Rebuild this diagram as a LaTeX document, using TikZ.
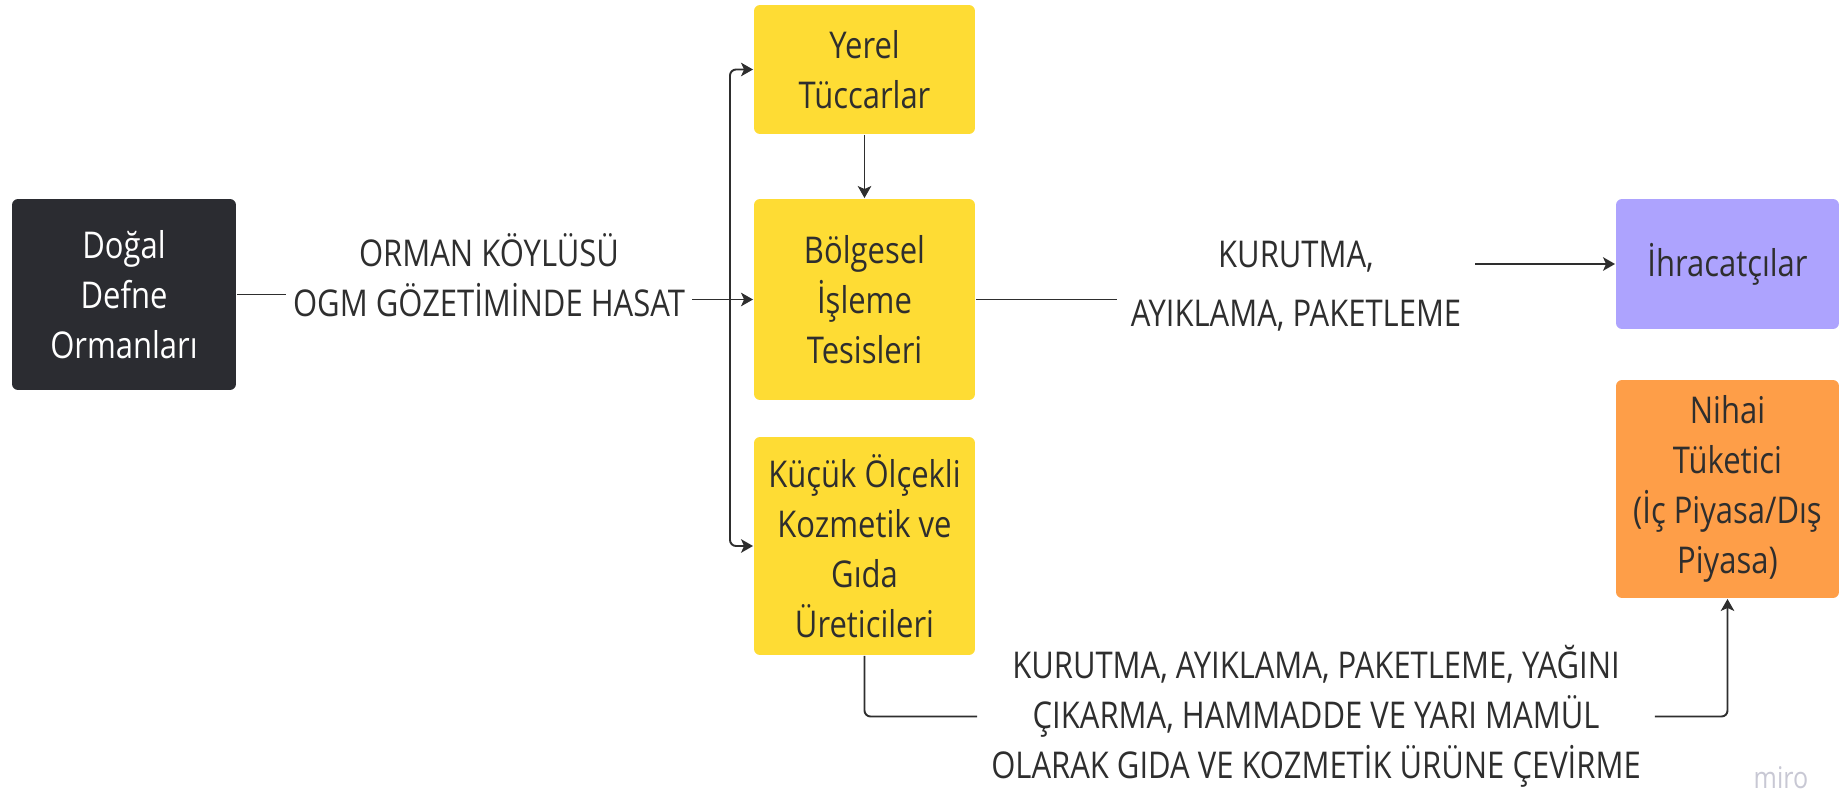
\documentclass[tikz,border=0pt]{standalone}
\usepackage{fontspec}
\setmainfont[FakeStretch=0.84]{Open Sans}
\usepackage{tikz}
\usetikzlibrary{positioning}
\usetikzlibrary{arrows.meta}

\definecolor{darkbox}{HTML}{2B2C31}
\definecolor{yellowbox}{HTML}{FEDC34}
\definecolor{purplebox}{HTML}{ADA3FE}
\definecolor{orangebox}{HTML}{FE9E48}
\definecolor{inkcol}{HTML}{2E2E2E}
\definecolor{mirogray}{HTML}{C8C8D4}

\begin{document}
\begin{tikzpicture}[x=0.02cm,y=-0.02cm,color=inkcol,line width=1.1pt,
    every node/.style={font=\fontsize{21}{28.5}\selectfont,text=inkcol,align=center},
    box/.style={rounded corners=0.12cm,inner sep=0pt,minimum width=4.42cm},
    lbl/.style={inner sep=3.5pt},
    arr/.style={-{Stealth[length=0.24cm,width=0.27cm,inset=0.06cm]}}]
        \useasboundingbox (0,0) rectangle (1847,794);

        % boxes
        \node[box,fill=darkbox,text=white,minimum width=4.48cm,minimum height=3.82cm](dogal) at (124,294.5) {Doğal\\Defne\\Ormanları};
        \node[box,fill=yellowbox,minimum height=2.58cm](yerel) at (864.5,69.5) {Yerel\\Tüccarlar};
        \node[box,fill=yellowbox,minimum height=4.02cm](bolgesel) at (864.5,299.5) {Bölgesel\\İşleme\\Tesisleri};
        \node[box,fill=yellowbox,minimum height=4.36cm](kucuk) at (864.5,546) {Küçük Ölçekli\\Kozmetik ve\\Gıda\\Üreticileri};
        \node[box,fill=purplebox,minimum width=4.46cm,minimum height=2.6cm](ihrac) at (1727.5,264) {İhracatçılar};
        \node[box,fill=orangebox,minimum width=4.46cm,minimum height=4.36cm](nihai) at (1727.5,489) {Nihai\\Tüketici\\(İç Piyasa/Dış\\Piyasa)};

        % connector labels
        \node[lbl](hasat) at (489,275) {ORMAN KÖYLÜSÜ\\OGM GÖZETİMİNDE HASAT};
        \node[lbl,inner xsep=7.5pt](kurutma) at (1296,286.5) {KURUTMA,\\[5pt]AYIKLAMA, PAKETLEME};
        \node[lbl,inner xsep=7.5pt](islem) at (1316,716.5) {KURUTMA, AYIKLAMA, PAKETLEME, YAĞINI\\ÇIKARMA, HAMMADDE VE YARI MAMÜL\\OLARAK GIDA VE KOZMETİK ÜRÜNE ÇEVİRME};

        % connectors
        \coordinate (split) at (730,300);
        \draw (dogal.east) -- (hasat.west |- dogal.east);
        \draw[arr] (hasat.east |- bolgesel.west) -- (bolgesel.west);
        \draw[arr,rounded corners=0.12cm] (split) |- (yerel.west);
        \draw[arr,rounded corners=0.12cm] (split) |- (kucuk.west);
        \draw[arr] (yerel) -- (bolgesel);
        \draw (bolgesel.east) -- (kurutma.west |- bolgesel.east);
        \draw[arr] (kurutma.east |- ihrac.west) -- (ihrac.west);
        \draw[rounded corners=0.12cm] (kucuk.south) |- (islem.west);
        \draw[arr,rounded corners=0.12cm] (islem.east) -| (nihai.south);

        \node[text=mirogray,inner sep=0pt,font=\fontsize{17}{20}\selectfont](miro) at (1781,778) {miro};
\end{tikzpicture}
\end{document}
